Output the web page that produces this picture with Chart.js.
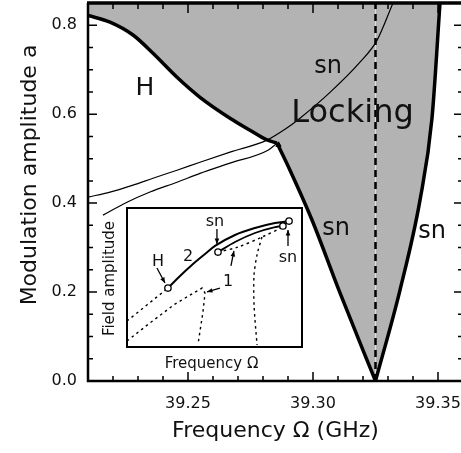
<!DOCTYPE html>
<html>
<head>
<meta charset="utf-8">
<script src="https://cdn.jsdelivr.net/npm/chart.js@4.4.1/dist/chart.umd.min.js"></script>
<style>
  html, body { margin: 0; padding: 0; background: #fff; overflow: hidden; }
  #wrap { position: relative; width: 461px; height: 453px; overflow: hidden; }
  #main { position: absolute; left: 0; top: 0; }
  #inset { position: absolute; left: 100px; top: 200px; }
</style>
</head>
<body>
<div id="wrap">
  <canvas id="main" width="470" height="453"></canvas>
  <canvas id="inset" width="210" height="175"></canvas>
</div>
<script>
// main diagram: modulation amplitude a vs frequency (GHz)
const hopfFreq = [39.21, 39.2188, 39.228, 39.236, 39.2456, 39.2548, 39.2668, 39.2748, 39.2816, 39.2856];
const hopfAmp = [0.822, 0.807, 0.778, 0.737, 0.683, 0.638, 0.591, 0.564, 0.542, 0.535];
const snLeftFreq = [39.2856, 39.2908, 39.2996, 39.3108, 39.325];
const snLeftAmp = [0.535, 0.474, 0.362, 0.198, 0.0];
const snRightFreq = [39.325, 39.3348, 39.3428, 39.3476, 39.3508];
const snRightAmp = [0.0, 0.2045, 0.4067, 0.591, 0.85];
const snInnerFreq = [39.21, 39.2188, 39.228, 39.236, 39.2456, 39.2548, 39.2668, 39.2816, 39.2888, 39.2948, 39.3068, 39.3188, 39.3256, 39.332];
const snInnerAmp = [0.4135, 0.4247, 0.4404, 0.456, 0.474, 0.492, 0.5146, 0.5416, 0.566, 0.591, 0.649, 0.717, 0.766, 0.85];
const snLowerFreq = [39.216, 39.2256, 39.2348, 39.2456, 39.2548, 39.2668, 39.282, 39.2852];
const snLowerAmp = [0.373, 0.402, 0.425, 0.447, 0.467, 0.49, 0.519, 0.533];
const cuspFreq = [39.2862];
const cuspAmp = [0.531];
const centerFreq = [39.325, 39.325];
const centerAmp = [0, 0.85];
const freqTicks = [39.25, 39.30, 39.35];
const ampTicks = [0, 0.2, 0.4, 0.6, 0.8];

// inset: schematic field amplitude vs frequency (arbitrary units 0..10)
const branch2X = [2.34, 3.03, 3.71, 4.46, 5.03, 6.17, 7.31, 8.46, 9.26];
const branch2Y = [4.24, 5.11, 5.90, 6.69, 7.27, 8.06, 8.56, 8.92, 9.06];
const branch1X = [5.2, 6.17, 7.31, 8.46, 8.91];
const branch1Y = [6.83, 7.55, 8.2, 8.63, 8.71];
const unstAX = [0, 2.34];
const unstAY = [1.87, 4.24];
const unstBX = [0, 1.31, 2.74, 4.29, 4.46, 4.34, 4.06];
const unstBY = [0.43, 1.73, 3.09, 4.24, 3.88, 2.52, 0.22];
const unstCX = [5.2, 6.34, 7.71, 8.91];
const unstCY = [6.83, 7.19, 7.91, 8.63];
const unstDX = [7.71, 7.43, 7.26, 7.26, 7.43];
const unstDY = [7.91, 6.62, 5.18, 3.02, 0.14];
const bifX = [2.34, 5.2, 8.91, 9.26];
const bifY = [4.24, 6.83, 8.71, 9.06];

const pts = (xs, ys) => xs.map((x, i) => ({ x: x, y: ys[i] }));
const FONT = 'DejaVu Sans';
const lockingGray = '#b3b3b3';
Chart.defaults.font.family = FONT;
Chart.defaults.color = '#111';

// box with inward ticks on all four sides
const framePlugin = {
  id: 'frame',
  afterDatasetsDraw(chart) {
    const { ctx, chartArea: a, scales: { x, y } } = chart;
    ctx.save();
    ctx.strokeStyle = '#000';
    ctx.lineWidth = 2.5;
    ctx.beginPath();
    ctx.moveTo(a.left, a.top); ctx.lineTo(a.left, a.bottom);
    ctx.lineTo(a.right, a.bottom); ctx.lineTo(a.right, a.top);
    ctx.stroke();
    ctx.lineWidth = 3.5;
    ctx.beginPath(); ctx.moveTo(a.left - 1, a.top); ctx.lineTo(a.right, a.top); ctx.stroke();

    ctx.lineWidth = 1.5;
    ctx.beginPath();
    for (let i = 0; i <= 15; i++) {
      const v = 39.21 + i * 0.01;
      const px = x.getPixelForValue(v);
      const major = freqTicks.some(t => Math.abs(t - v) < 1e-6);
      const len = major ? 9 : 5;
      ctx.moveTo(px, a.bottom); ctx.lineTo(px, a.bottom - len);
      ctx.moveTo(px, a.top); ctx.lineTo(px, a.top + len + 1);
    }
    for (let i = 0; i <= 17; i++) {
      const v = i * 0.05;
      const py = y.getPixelForValue(v);
      const major = ampTicks.some(t => Math.abs(t - v) < 1e-6);
      const len = major ? 9 : 5;
      ctx.moveTo(a.left, py); ctx.lineTo(a.left + len, py);
      ctx.moveTo(a.right, py); ctx.lineTo(a.right - len, py);
    }
    ctx.stroke();
    ctx.restore();
  }
};

const mainLabels = [
  { text: 'H', x: 39.2328, y: 0.643, size: 25 },
  { text: 'sn', x: 39.306, y: 0.692, size: 24 },
  { text: 'Locking', x: 39.3158, y: 0.582, size: 32 },
  { text: 'sn', x: 39.3092, y: 0.328, size: 24 },
  { text: 'sn', x: 39.3476, y: 0.321, size: 24 }
];

const labelPlugin = {
  id: 'labels',
  afterDraw(chart) {
    const { ctx, scales: { x, y } } = chart;
    ctx.save();
    ctx.fillStyle = '#111';
    ctx.textAlign = 'center';
    ctx.textBaseline = 'alphabetic';
    mainLabels.forEach(l => {
      ctx.font = l.size + 'px "' + FONT + '"';
      ctx.fillText(l.text, x.getPixelForValue(l.x), y.getPixelForValue(l.y));
    });
    // y axis title
    ctx.font = '22px "' + FONT + '"';
    ctx.translate(36, 175);
    ctx.rotate(-Math.PI / 2);
    ctx.fillText('Modulation amplitude a', 0, 0);
    ctx.restore();
  }
};

// fixed axis sizes, no extra room for end labels
const fixScale = size => s => {
  if (s.isHorizontal()) s.height = size; else s.width = size;
  s.paddingTop = 0; s.paddingBottom = 0; s.paddingLeft = 0; s.paddingRight = 0;
};

const thick = { borderColor: '#000', borderWidth: 3.5, fill: false, cubicInterpolationMode: 'monotone', order: 1 };
const gray = { borderWidth: 0, backgroundColor: lockingGray, fill: 'end', cubicInterpolationMode: 'monotone', order: 3 };

new Chart(document.getElementById('main'), {
  type: 'line',
  data: {
    datasets: [
      { data: pts(centerFreq, centerAmp), borderColor: '#000', borderWidth: 2.5, borderDash: [7, 5], order: 0 },
      { data: pts(cuspFreq, cuspAmp), showLine: false, pointStyle: 'triangle', pointRadius: 3, pointBackgroundColor: '#000', pointBorderColor: '#000', order: 0 },
      Object.assign({ data: pts(hopfFreq, hopfAmp) }, thick),
      Object.assign({ data: pts(snLeftFreq, snLeftAmp) }, thick),
      Object.assign({ data: pts(snRightFreq, snRightAmp) }, thick),
      { data: pts(snInnerFreq, snInnerAmp), borderColor: '#000', borderWidth: 1.2, cubicInterpolationMode: 'monotone', order: 2 },
      { data: pts(snLowerFreq, snLowerAmp), borderColor: '#000', borderWidth: 1.2, cubicInterpolationMode: 'monotone', order: 2 },
      // locking region: upper part bounded by H and left sn, lower-right part by right sn
      Object.assign({ data: pts(hopfFreq.concat(snLeftFreq.slice(1)), hopfAmp.concat(snLeftAmp.slice(1))) }, gray),
      Object.assign({ data: pts(snRightFreq, snRightAmp) }, gray)
    ]
  },
  options: {
    responsive: false,
    animation: false,
    layout: { autoPadding: false, padding: { top: 3, right: 7, left: 0, bottom: 0 } },
    elements: { point: { radius: 0 }, line: { borderCapStyle: 'butt', borderJoinStyle: 'miter' } },
    plugins: {
      legend: { display: false },
      tooltip: { enabled: false },
      filler: { drawTime: 'beforeDatasetsDraw' }
    },
    scales: {
      x: {
        type: 'linear', min: 39.21, max: 39.36,
        grid: { display: false, drawTicks: false },
        border: { display: false },
        ticks: { padding: 13, font: { size: 16 }, color: '#111', callback: v => v.toFixed(2) },
        afterBuildTicks: s => { s.ticks = freqTicks.map(v => ({ value: v })); },
        afterFit: fixScale(72),
        title: { display: true, text: 'Frequency Ω (GHz)', font: { size: 22 }, color: '#111', padding: { top: 0, bottom: 9 } }
      },
      y: {
        type: 'linear', min: 0, max: 0.85,
        grid: { display: false, drawTicks: false },
        border: { display: false },
        ticks: { padding: 11, font: { size: 16 }, color: '#111', callback: v => v.toFixed(1) },
        afterBuildTicks: s => { s.ticks = ampTicks.map(v => ({ value: v })); },
        afterFit: fixScale(88)
      }
    }
  },
  plugins: [framePlugin, labelPlugin]
});

// inset
const insetArrows = [
  [1.71, 5.68, 2.17, 4.6],
  [5.14, 8.49, 5.14, 7.41],
  [5.94, 5.83, 6.11, 6.91],
  [5.31, 4.24, 4.57, 3.96],
  [9.2, 7.27, 9.2, 8.42]
];
const insetLabels = [
  { text: 'H', x: 1.77, y: 5.8 },
  { text: '2', x: 3.49, y: 6.2 },
  { text: 'sn', x: 5.03, y: 8.7 },
  { text: '1', x: 5.77, y: 4.4 },
  { text: 'sn', x: 9.2, y: 6.1 }
];

const insetPlugin = {
  id: 'insetDeco',
  beforeDatasetsDraw(chart) {
    const { ctx, chartArea: a } = chart;
    ctx.save();
    ctx.fillStyle = '#fff';
    ctx.fillRect(a.left, a.top, a.right - a.left, a.bottom - a.top);
    ctx.restore();
  },
  afterDatasetsDraw(chart) {
    const { ctx, chartArea: a, scales: { x, y } } = chart;
    ctx.save();
    ctx.strokeStyle = '#000';
    ctx.lineWidth = 2;
    ctx.strokeRect(a.left, a.top, a.right - a.left, a.bottom - a.top);

    ctx.lineWidth = 1.3;
    ctx.fillStyle = '#000';
    insetArrows.forEach(([x1, y1, x2, y2]) => {
      const p1 = [x.getPixelForValue(x1), y.getPixelForValue(y1)];
      const p2 = [x.getPixelForValue(x2), y.getPixelForValue(y2)];
      const ang = Math.atan2(p2[1] - p1[1], p2[0] - p1[0]);
      ctx.beginPath(); ctx.moveTo(p1[0], p1[1]); ctx.lineTo(p2[0], p2[1]); ctx.stroke();
      ctx.beginPath();
      ctx.moveTo(p2[0], p2[1]);
      ctx.lineTo(p2[0] - 6 * Math.cos(ang - 0.4), p2[1] - 6 * Math.sin(ang - 0.4));
      ctx.lineTo(p2[0] - 6 * Math.cos(ang + 0.4), p2[1] - 6 * Math.sin(ang + 0.4));
      ctx.closePath(); ctx.fill();
    });

    ctx.fillStyle = '#111';
    ctx.textAlign = 'center';
    ctx.textBaseline = 'alphabetic';
    ctx.font = '16px "' + FONT + '"';
    insetLabels.forEach(l => ctx.fillText(l.text, x.getPixelForValue(l.x), y.getPixelForValue(l.y)));

    ctx.font = '15px "' + FONT + '"';
    ctx.fillText('Frequency Ω', (a.left + a.right) / 2 - 3, a.bottom + 21);
    ctx.translate(a.left - 13, (a.top + a.bottom) / 2 + 1);
    ctx.rotate(-Math.PI / 2);
    ctx.fillText('Field amplitude', 0, 0);
    ctx.restore();
  }
};

const dotted = { borderColor: '#000', borderWidth: 1.4, borderDash: [2.5, 3.5], tension: 0.3 };
new Chart(document.getElementById('inset'), {
  type: 'line',
  data: {
    datasets: [
      { data: pts(bifX, bifY), showLine: false, pointRadius: 3.2, pointBackgroundColor: '#fff', pointBorderColor: '#000', pointBorderWidth: 1.3, order: 0 },
      { data: pts(branch2X, branch2Y), borderColor: '#000', borderWidth: 2, cubicInterpolationMode: 'monotone', order: 1 },
      { data: pts(branch1X, branch1Y), borderColor: '#000', borderWidth: 1.8, cubicInterpolationMode: 'monotone', order: 1 },
      Object.assign({ data: pts(unstAX, unstAY), order: 2 }, dotted),
      Object.assign({ data: pts(unstBX, unstBY), order: 2 }, dotted, { tension: 0 }),
      Object.assign({ data: pts(unstCX, unstCY), order: 2 }, dotted),
      Object.assign({ data: pts(unstDX, unstDY), order: 2 }, dotted)
    ]
  },
  options: {
    responsive: false,
    animation: false,
    layout: { padding: { left: 27, top: 8, right: 8, bottom: 28 } },
    elements: { point: { radius: 0 } },
    plugins: { legend: { display: false }, tooltip: { enabled: false } },
    scales: {
      x: { type: 'linear', min: 0, max: 10, display: false },
      y: { type: 'linear', min: 0, max: 10, display: false }
    }
  },
  plugins: [insetPlugin]
});
</script>
</body>
</html>
